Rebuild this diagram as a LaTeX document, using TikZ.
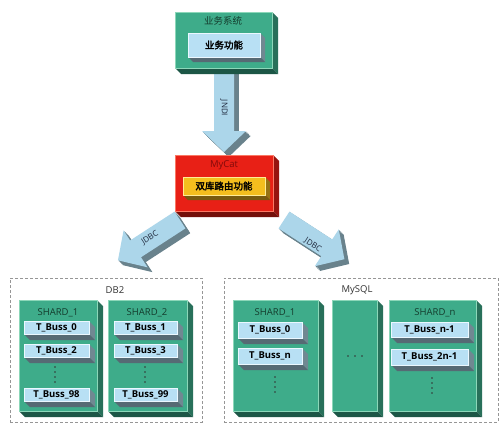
\documentclass[tikz,border=0pt]{standalone}
\usepackage{fontspec}
\setmainfont{Open Sans}
\newfontfamily\cjk{Noto Sans CJK SC}[AutoFakeBold=2.5]
\usetikzlibrary{calc,fit}
\definecolor{tealF}{RGB}{62,172,138}
\definecolor{tealS}{RGB}{40,112,90}
\definecolor{tealB}{RGB}{28,86,70}
\definecolor{tealL}{RGB}{140,215,185}
\definecolor{blueF}{RGB}{184,224,244}
\definecolor{blueS}{RGB}{112,136,146}
\definecolor{blueB}{RGB}{86,106,116}
\definecolor{blueL}{RGB}{235,248,255}
\definecolor{redF}{RGB}{232,32,22}
\definecolor{redS}{RGB}{150,20,15}
\definecolor{redB}{RGB}{115,15,10}
\definecolor{redL}{RGB}{250,120,100}
\definecolor{goldF}{RGB}{244,190,30}
\definecolor{goldS}{RGB}{150,115,20}
\definecolor{goldB}{RGB}{120,90,15}
\definecolor{goldL}{RGB}{255,235,150}
\definecolor{arrF}{RGB}{172,214,234}
\definecolor{arrS}{RGB}{105,130,140}
\definecolor{txtgreen}{RGB}{20,60,45}
\definecolor{txtred}{RGB}{130,10,10}
\definecolor{txtnavy}{RGB}{30,40,60}
\definecolor{dashgray}{RGB}{150,150,150}
\newcommand\mycube[7]{%
  \fill[#7S] (#4,#3) -- (#4+#6,#3+#6) -- (#4+#6,#5+#6) -- (#4,#5) -- cycle;
  \fill[#7B] (#2,#5) -- (#2+#6,#5+#6) -- (#4+#6,#5+#6) -- (#4,#5) -- cycle;
  \coordinate (#1-a) at (#2,#3);
  \coordinate (#1-b) at (#4,#5);
  \node[fit=(#1-a)(#1-b), inner sep=0pt, fill=#7F, draw=#7L, line width=0.5pt] (#1) {};
}
\newcommand\blockarrow[5]{%
  \fill[#5, shift={(#1,#2)}, rotate=#3] (0,-10) -- (#4-21,-10) -- (#4-21,-22) -- (#4,0) -- (#4-21,22) -- (#4-21,10) -- (0,10) -- cycle;
}
\newcommand\fatarrow[4]{%
  \foreach \k in {1,...,6}{\begin{scope}[shift={(\k*0.8,\k*0.8)}]\blockarrow{#1}{#2}{#3}{#4}{arrS}\end{scope}}
  \blockarrow{#1}{#2}{#3}{#4}{arrF}
}
\newcommand\dotcol[3]{% name x y
  \foreach \j in {0,1,2,3}{\fill[black!80] (#2,#3+\j*5) circle (0.9);}
}
\begin{document}
\begin{tikzpicture}[x=1pt,y=-1pt,
  cjkttl/.style={inner sep=0pt, font=\cjk\fontsize{9.5}{10}\selectfont, text=txtgreen},
  cjkbold/.style={inner sep=0pt, font=\cjk\bfseries\fontsize{9.5}{10}\selectfont, text=black},
  shardlbl/.style={inner sep=0pt, font=\fontsize{9.5}{10}\selectfont, text=txtgreen},
  itemlbl/.style={inner sep=0pt, font=\bfseries\fontsize{9.5}{10}\selectfont, text=black},
  grouplbl/.style={inner sep=0pt, font=\fontsize{9.5}{10}\selectfont, text=black!80},
  arrlbl/.style={inner sep=0pt, font=\fontsize{8}{9}\selectfont, text=txtnavy},
  dashbox/.style={draw=dashgray, dash pattern=on 3pt off 2pt, line width=0.8pt, inner sep=0pt},
]
\fill[white] (0,0) rectangle (500,431);
\useasboundingbox (0,0) rectangle (500,431);

% JNDI arrow
\fatarrow{224}{66}{270}{86}
\node[arrlbl, rotate=-90] (jndi) at (224,108) {JNDI};

% top system
\mycube{sys}{175}{12}{272}{68}{6}{teal}
\node[cjkttl] (sys-t) at (223,21) {业务系统};
\mycube{func}{188}{33}{260}{57}{5}{blue}
\node[cjkbold] (func-t) at (func) {业务功能};

% JDBC arrows
\fatarrow{180}{220}{213}{74}
\node[arrlbl, rotate=33] (jdbc1) at (150,238) {JDBC};
\fatarrow{284}{220}{327}{72}
\node[arrlbl, rotate=-33] (jdbc2) at (313,245) {JDBC};

% MyCat
\mycube{mycat}{175}{155}{273}{211}{6}{red}
\node[inner sep=0pt, font=\fontsize{9.5}{10}\selectfont, text=txtred] (mycat-t) at (224,165) {MyCat};
\mycube{route}{183}{177}{265}{195}{5}{gold}
\node[cjkbold] (route-t) at (route) {双库路由功能};

% DB2 group
\node[dashbox, fit={(10,278)(202,422)}] (db2) {};
\node[grouplbl] (db2-t) at (115,290) {DB2};
\mycube{s1}{19}{300}{97}{411}{6}{teal}
\node[shardlbl] (s1-t) at (58,313) {SHARD\_1};
\mycube{a0}{24}{321}{89}{334}{6}{blue}
\node[itemlbl] at (a0) {T\_Buss\_0};
\mycube{a2}{24}{344}{89}{357}{6}{blue}
\node[itemlbl] at (a2) {T\_Buss\_2};
\dotcol{ad}{55}{367}
\mycube{a98}{24}{388}{89}{401}{6}{blue}
\node[itemlbl] at (a98) {T\_Buss\_98};

\mycube{s2}{108}{300}{187}{411}{6}{teal}
\node[shardlbl] (s2-t) at (147,313) {SHARD\_2};
\mycube{b1}{114}{321}{177}{334}{6}{blue}
\node[itemlbl] at (b1) {T\_Buss\_1};
\mycube{b3}{114}{344}{177}{357}{6}{blue}
\node[itemlbl] at (b3) {T\_Buss\_3};
\dotcol{bd}{145}{367}
\mycube{b99}{114}{388}{177}{401}{6}{blue}
\node[itemlbl] at (b99) {T\_Buss\_99};

% MySQL group
\node[dashbox, fit={(224,278)(498,422)}] (mysql) {};
\node[grouplbl] (mysql-t) at (357,290) {MySQL};
\mycube{m1}{233}{300}{318}{411}{6}{teal}
\node[shardlbl] (m1-t) at (275,313) {SHARD\_1};
\mycube{c0}{238}{322}{302}{338}{6}{blue}
\node[itemlbl] at (c0) {T\_Buss\_0};
\mycube{cn}{238}{348}{302}{364}{6}{blue}
\node[itemlbl] at (cn) {T\_Buss\_n};
\dotcol{cd}{275}{377}

\mycube{mm}{332}{300}{377}{411}{6}{teal}
\foreach \xx in {348,355,362}{\fill[black!80] (\xx,356) circle (0.9);}

\mycube{mn}{389}{300}{476}{411}{6}{teal}
\node[shardlbl] (mn-t) at (435,313) {SHARD\_n};
\mycube{d1}{391}{322}{468}{337}{6}{blue}
\node[itemlbl] at (d1) {T\_Buss\_n-1};
\mycube{d2}{391}{349}{468}{365}{6}{blue}
\node[itemlbl] at (d2) {T\_Buss\_2n-1};
\dotcol{dd}{432}{378}
\end{tikzpicture}
\end{document}
